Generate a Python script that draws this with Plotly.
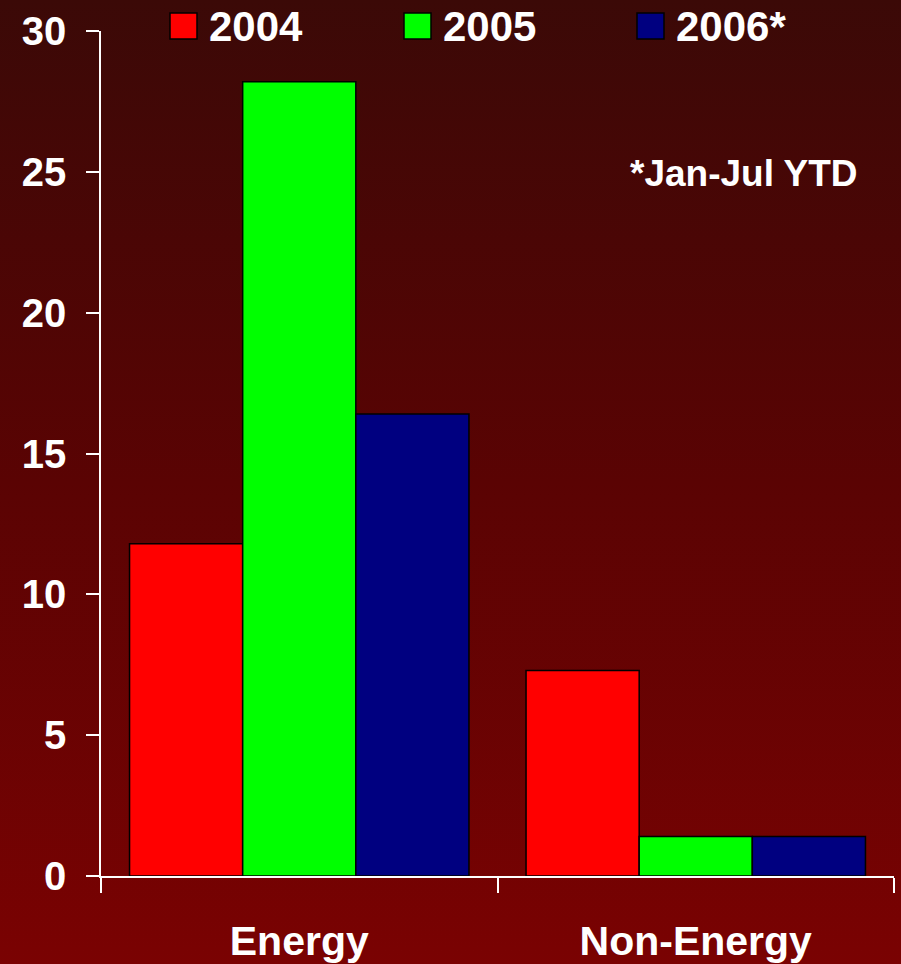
import base64
import plotly.graph_objects as go

categories = ["Energy", "Non-Energy"]
years = ["2004", "2005", "2006*"]
values_2004 = [11.8, 7.3]
values_2005 = [28.2, 1.4]
values_2006 = [16.4, 1.4]
series = [values_2004, values_2005, values_2006]
colors = ["#FF0000", "#00FF00", "#000080"]
y_ticks = [0, 5, 10, 15, 20, 25, 30]
note = "*Jan-Jul YTD"

W, H = 901, 964
FONT = "Liberation Sans, Arial, sans-serif"

svg = f'''<svg xmlns="http://www.w3.org/2000/svg" width="{W}" height="{H}" preserveAspectRatio="none">
<defs><linearGradient id="g" x1="0" y1="0" x2="0" y2="1">
<stop offset="0" stop-color="#3b0907"/>
<stop offset="0.5" stop-color="#5a0303"/>
<stop offset="1" stop-color="#7a0202"/>
</linearGradient></defs>
<rect width="{W}" height="{H}" fill="url(#g)"/></svg>'''
bg_src = "data:image/svg+xml;base64," + base64.b64encode(svg.encode()).decode()

fig = go.Figure()
for name, vals, col in zip(years, series, colors):
    fig.add_trace(go.Bar(
        x=categories, y=vals, name=name,
        marker=dict(color=col, line=dict(color="black", width=1.5)),
        showlegend=False,
    ))

ml, mr, mt, mb = 101, 7, 31, 88
PW, PH = W - ml - mr, H - mt - mb

fig.update_layout(
    width=W, height=H,
    margin=dict(l=ml, r=mr, t=mt, b=mb),
    paper_bgcolor="#5a0303",
    plot_bgcolor="rgba(0,0,0,0)",
    barmode="group",
    bargap=0.144,
    bargroupgap=0,
    font=dict(family=FONT, color="white", size=38, weight="bold"),
    images=[dict(source=bg_src, xref="paper", yref="paper",
                 x=-ml / PW, y=1 + mt / PH,
                 sizex=W / PW, sizey=H / PH,
                 xanchor="left", yanchor="top", sizing="stretch", layer="below")],
    xaxis=dict(
        showline=True, linecolor="white", linewidth=1.5,
        ticks="outside", tickson="boundaries", ticklen=15, tickcolor="white", tickwidth=1.5,
        tickfont=dict(size=41, family=FONT, color="white", weight="bold"),
        ticklabelstandoff=28, automargin=False,
        showgrid=False, zeroline=False,
    ),
    yaxis=dict(
        range=[0, 30], tickvals=y_ticks,
        showline=True, linecolor="white", linewidth=1.5,
        ticks="outside", ticklen=13, tickcolor="white", tickwidth=1.5,
        tickfont=dict(size=40, family=FONT, color="white", weight="bold"),
        ticklabelstandoff=12, automargin=False,
        showgrid=False, zeroline=False,
    ),
)

# manual legend
leg_sq_x = [170, 404, 637]
for name, col, sx in zip(years, colors, leg_sq_x):
    fig.add_shape(type="rect", xref="paper", yref="paper",
                  x0=(sx - ml) / PW, x1=(sx + 27 - ml) / PW,
                  y0=1 + (mt - 39) / PH, y1=1 + (mt - 13) / PH,
                  fillcolor=col, line=dict(color="black", width=1.5))
    fig.add_annotation(xref="paper", yref="paper",
                       x=(sx + 37 - ml) / PW, y=1 + (mt - 27) / PH,
                       xanchor="left", yanchor="middle", text=name, showarrow=False,
                       font=dict(size=42, family=FONT, color="white", weight="bold"))

fig.add_annotation(xref="paper", yref="paper",
                   x=(860 - ml) / PW, y=1 - (173 - mt) / PH,
                   xanchor="right", yanchor="middle", text=note, showarrow=False,
                   font=dict(size=37, family=FONT, color="white", weight="bold"))

fig.write_html("out.html", config={"displayModeBar": False},
               post_script="document.body.style.margin='0';document.body.style.overflow='hidden';")
